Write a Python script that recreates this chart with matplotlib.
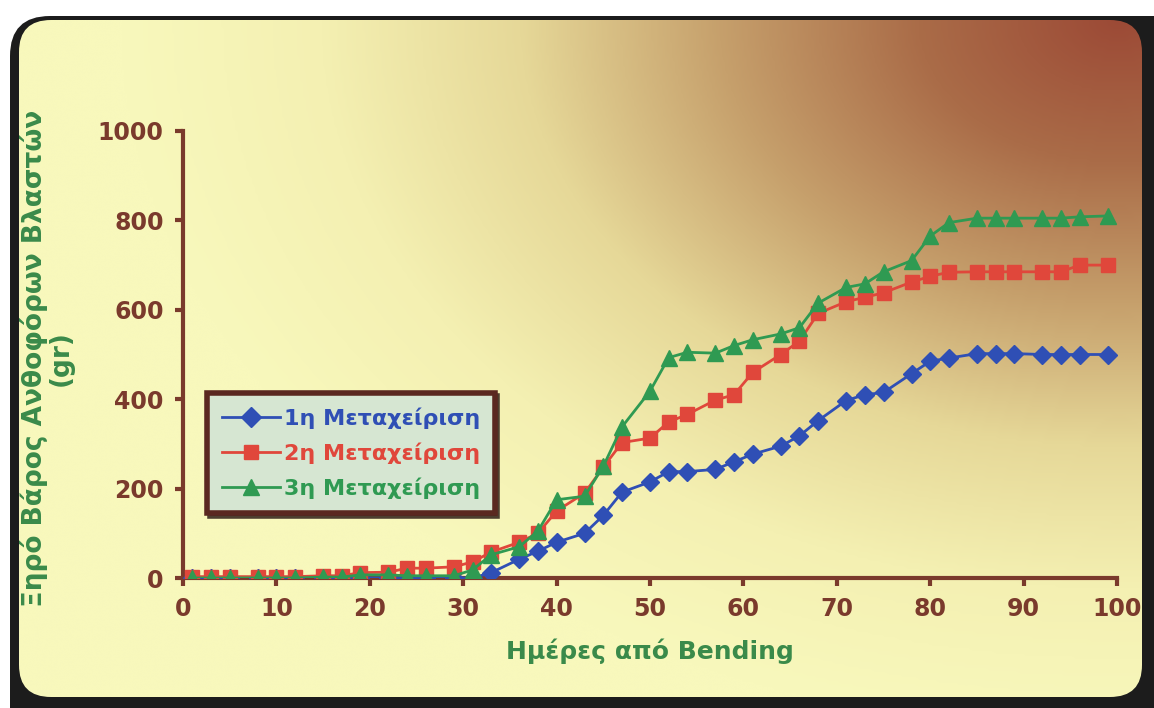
import numpy as np
import matplotlib
matplotlib.use("Agg")
import matplotlib.pyplot as plt
from matplotlib.patches import FancyBboxPatch
from matplotlib.colors import LinearSegmentedColormap

plt.rcParams['font.family'] = ['DejaVu Sans']
plt.rcParams['font.weight'] = 'bold'

# data
days = [1, 3, 5, 8, 10, 12, 15, 17, 19, 22, 24, 26, 29, 31, 33, 36, 38, 40, 43, 45, 47,
        50, 52, 54, 57, 59, 61, 64, 66, 68, 71, 73, 75, 78, 80, 82, 85, 87, 89, 92, 94, 96, 99]
treat1 = [0, 0, 0, 0, 0, 0, 0, 0, 0, 0, 0, 0, 0, 0, 12, 42, 60, 80, 100, 140, 192,
          215, 238, 238, 243, 260, 277, 295, 318, 352, 397, 410, 415, 457, 485, 492, 502, 502, 502, 500, 500, 500, 500]
treat2 = [3, 3, 3, 3, 3, 3, 5, 5, 12, 13, 22, 22, 25, 36, 58, 80, 100, 150, 190, 248, 303,
          313, 349, 366, 398, 410, 460, 500, 530, 592, 618, 628, 638, 662, 675, 684, 685, 685, 685, 685, 685, 700, 700]
treat3 = [0, 0, 0, 0, 0, 0, 2, 2, 7, 7, 5, 5, 5, 18, 52, 70, 105, 175, 183, 250, 338,
          418, 493, 505, 503, 520, 533, 546, 560, 615, 650, 658, 685, 710, 765, 795, 805, 805, 805, 805, 805, 808, 810]
labels = ["1η Μεταχείριση", "2η Μεταχείριση", "3η Μεταχείριση"]

W, H = 1154, 708
fig = plt.figure(figsize=(W / 100, H / 100), dpi=100)
fig.patch.set_facecolor('white')

# background card with a gradient that darkens toward the top right
bg = fig.add_axes([0, 0, 1, 1], zorder=-5)
bg.set_xlim(0, W)
bg.set_ylim(0, H)
bg.axis('off')

outer = FancyBboxPatch((10, -40), W + 40, H - 12 + 40 - 4,
                       boxstyle="round,pad=0,rounding_size=40",
                       facecolor='#1c1c1c', edgecolor='none', zorder=1)
bg.add_patch(outer)
inner = FancyBboxPatch((19, 11), 1123, 677,
                       boxstyle="round,pad=0,rounding_size=32",
                       facecolor='none', edgecolor='none', zorder=1)
bg.add_patch(inner)

px, py = np.meshgrid(np.linspace(19, 1142, 400), np.linspace(11, 688, 250))
dist = np.hypot(px - 1120, (py - 690) * 1.4)
cmap = LinearSegmentedColormap.from_list(
    'card', [(0.0, '#9c4a36'), (0.2, '#aa6c48'), (0.4, '#c6a06c'),
             (0.6, '#e6d898'), (0.8, '#f4f0b2'), (1.0, '#f8f8bc')])
img = bg.imshow(np.clip(dist / 1000, 0, 1), cmap=cmap, vmin=0, vmax=1,
                extent=[19, 1142, 11, 688], origin='lower', aspect='auto',
                interpolation='bicubic', zorder=2)
img.set_clip_path(inner)

# main axes
ax = fig.add_axes([183 / W, 130 / H, 934 / W, 447 / H])
ax.patch.set_alpha(0)

brown = '#7a3a2c'
ax.plot(days, treat1, color='#2f4fb5', marker='D', ms=9, lw=2, label=labels[0], zorder=3)
ax.plot(days, treat2, color='#e0473b', marker='s', ms=9.5, lw=2, label=labels[1], zorder=4)
ax.plot(days, treat3, color='#2f9a52', marker='^', ms=11, lw=2, label=labels[2], zorder=5)

ax.set_xlim(0, 100)
ax.set_ylim(0, 1000)
ax.set_xticks(np.arange(0, 101, 10))
ax.set_yticks(np.arange(0, 1001, 200))
for s in ['top', 'right']:
    ax.spines[s].set_visible(False)
for s in ['left', 'bottom']:
    ax.spines[s].set_color(brown)
    ax.spines[s].set_linewidth(3)
ax.tick_params(colors=brown, labelsize=17, width=3, length=6, direction='out', pad=8)
for t in ax.get_xticklabels() + ax.get_yticklabels():
    t.set_fontweight('bold')

ax.set_xlabel('Ημέρες από Bending', color='#3a8a4a', fontsize=18, fontweight='bold', labelpad=12)
fig.text(47 / W, 350 / H, 'Ξηρό Βάρος Ανθοφόρων Βλαστών\n(gr)', rotation=90,
         ha='center', va='center', color='#3a8a4a', fontsize=19, fontweight='bold',
         linespacing=1.0)

leg = ax.legend(loc='upper left', bbox_to_anchor=(0.026, 0.414), borderaxespad=0,
                labelcolor='linecolor', handlelength=2.6, markerscale=1.1,
                labelspacing=0.6, borderpad=0.65, handletextpad=0.2,
                fancybox=False, shadow={'color': '#3a2a20', 'alpha': 0.9},
                framealpha=1, prop={'weight': 'bold', 'size': 16})
leg.get_frame().set_facecolor('#d6e6d2')
leg.get_frame().set_edgecolor('#5a2820')
leg.get_frame().set_linewidth(4)

fig.savefig('out.png', dpi=100)
